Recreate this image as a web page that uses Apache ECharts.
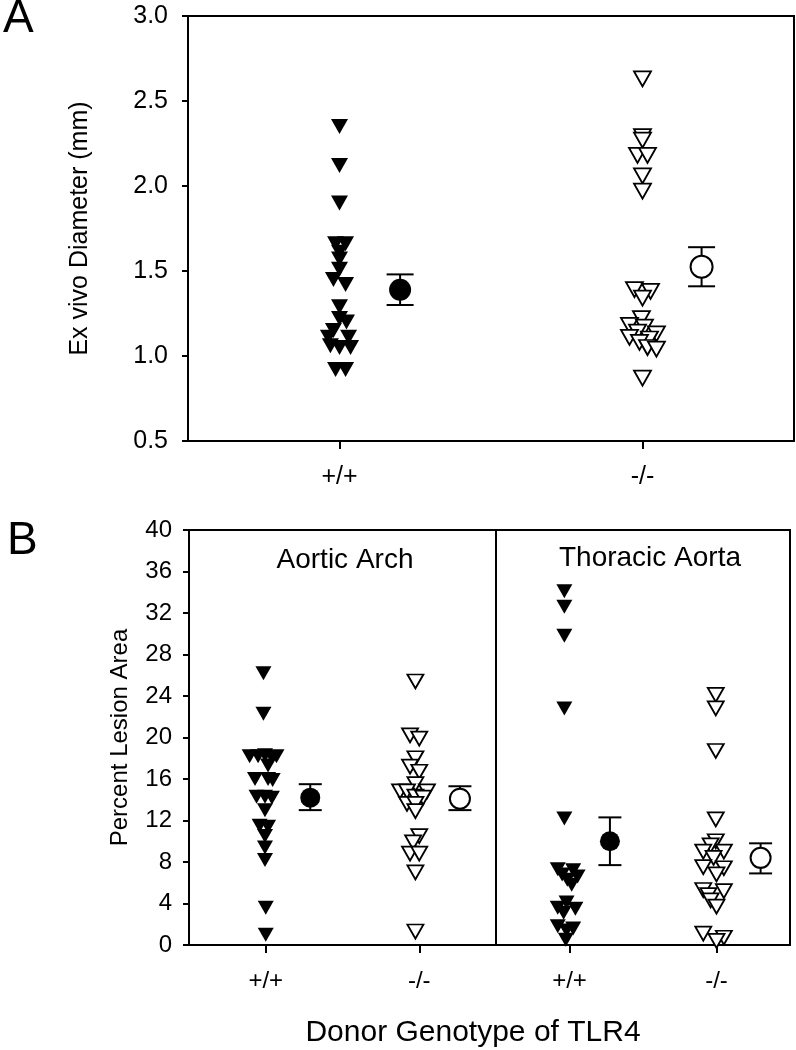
<!DOCTYPE html>
<html>
<head>
<meta charset="utf-8">
<script src="https://cdn.jsdelivr.net/npm/echarts@6/dist/echarts.min.js"></script>
<style>
  html, body { margin: 0; padding: 0; background: #fff; }
  #chart { width: 796px; height: 1050px; }
</style>
</head>
<body>
<div id="chart"></div>
<script>
// tick labels / categories
const genotypes = ['+/+', '-/-']
const groupPos = [1, 3]

// Panel A: ex vivo diameter (mm), [x, y]
const diamWT = [[1, 2.35], [1, 2.12], [1, 1.90], [0.974, 1.66], [1.04, 1.66], [1, 1.61], [1, 1.57], [1, 1.51],
  [0.96, 1.45], [1.04, 1.42], [1, 1.29], [1, 1.22], [1.046, 1.20], [0.96, 1.15], [0.927, 1.11], [1.06, 1.11],
  [0.94, 1.06], [1, 1.05], [1.073, 1.05], [0.974, 0.92], [1.04, 0.92]]
const diamKO = [[3, 2.63], [3, 2.29], [3, 2.27], [2.967, 2.18], [3.033, 2.18], [3, 2.06], [3, 1.97], [2.947, 1.39],
  [3.053, 1.38], [3, 1.34], [2.993, 1.22], [2.914, 1.18], [3.013, 1.17], [2.967, 1.14], [3.092, 1.13], [2.914, 1.11],
  [3.046, 1.10], [2.98, 1.08], [3.033, 1.05], [3.092, 1.04], [3, 0.87]]
// mean [x, mean, low, high]
const diamMeans = [[1.40, 1.39, 1.30, 1.48], [3.39, 1.525, 1.41, 1.64]]

// Panel B: percent lesion area, aortic arch
const archWT = [[0.97, 26.2], [0.97, 22.3], [0.79, 18.2], [0.9, 18.2], [0.99, 18.3], [1.08, 18.1], [1.14, 18.2],
  [1.03, 17.3], [0.86, 16.0], [1.03, 16.0], [1.09, 15.9], [0.88, 14.3], [0.99, 14.3], [1.08, 14.2], [0.99, 13.0],
  [0.92, 11.5], [1.03, 11.4], [0.99, 10.5], [0.99, 9.4], [0.99, 8.2], [1, 3.6], [1, 1.0]]
const archKO = [[2.95, 25.4], [2.88, 20.2], [3, 19.9], [2.95, 18.0], [2.88, 17.2], [3, 16.7], [2.95, 15.5],
  [2.75, 14.8], [2.84, 14.8], [3.1, 14.8], [2.95, 14.3], [3.05, 14.2], [2.84, 13.6], [2.95, 13.6], [2.95, 12.9],
  [3, 10.5], [2.92, 9.9], [2.88, 8.8], [3, 8.8], [2.95, 7.0], [2.95, 1.3]]
const archMeans = [[1.58, 14.2, 13.0, 15.5], [3.53, 14.1, 13.0, 15.3]]

// Panel B: thoracic aorta
const thorWT = [[0.93, 34.1], [0.93, 32.6], [0.93, 29.8], [0.93, 22.8], [0.93, 12.2], [0.84, 7.3], [1.05, 7.2],
  [0.9, 6.8], [1.11, 6.6], [0.97, 6.3], [1.03, 5.8], [0.96, 4.1], [0.84, 3.6], [1.08, 3.5], [0.92, 3.1],
  [0.84, 1.8], [1.05, 1.6], [0.96, 1.4], [0.95, 0.5]]
const thorKO = [[2.99, 24.1], [2.99, 22.8], [2.99, 18.7], [2.99, 12.1], [2.99, 10.0], [2.92, 9.6], [2.82, 9.0],
  [3.1, 9.0], [2.96, 8.4], [2.82, 7.5], [3.1, 7.4], [3, 6.8], [2.82, 5.3], [3.1, 5.2], [2.89, 4.8], [2.92, 4.3],
  [3, 3.7], [2.82, 1.1], [3.1, 0.7], [3, 0.4]]
const thorMeans = [[1.55, 10.0, 7.7, 12.3], [3.6, 8.4, 6.9, 9.8]]

const FONT = 'Liberation Sans, Arial, sans-serif'
const chart = echarts.init(document.getElementById('chart'))

const xAxisFor = (gridIndex, fontSize) => ({
  gridIndex, type: 'value', min: 0, max: 4, interval: 1,
  axisLine: { lineStyle: { color: '#000', width: 2 } },
  axisTick: { customValues: groupPos, length: 8, lineStyle: { color: '#000', width: 2 } },
  axisLabel: {
    customValues: groupPos, color: '#000', fontSize, fontFamily: FONT, margin: 24,
    formatter: v => { const i = groupPos.indexOf(v); return i >= 0 ? genotypes[i] : '' }
  },
  splitLine: { show: false }
})

const triangles = (data, xi, yi, filled, size) => ({
  type: 'scatter', xAxisIndex: xi, yAxisIndex: yi, data,
  symbol: 'triangle', symbolRotate: 180, symbolSize: size,
  itemStyle: filled ? { color: '#000', opacity: 1 } : { color: '#fff', borderColor: '#000', borderWidth: 1.8, opacity: 1 },
  z: 3
})

const meanDots = (data, xi, yi, size) => ({
  type: 'scatter', xAxisIndex: xi, yAxisIndex: yi,
  data: data.map((d, i) => ({
    value: [d[0], d[1]],
    itemStyle: i === 0
      ? { color: '#000', opacity: 1 }
      : { color: '#fff', borderColor: '#000', borderWidth: 2, opacity: 1 }
  })),
  symbol: 'circle', symbolSize: size, z: 5
})

const errorBars = (data, xi, yi, cap) => ({
  type: 'custom', xAxisIndex: xi, yAxisIndex: yi,
  data: data.map(d => [d[0], d[2], d[3]]),
  encode: { x: 0, y: [1, 2] },
  z: 4,
  renderItem: (params, api) => {
    const lo = api.coord([api.value(0), api.value(1)])
    const hi = api.coord([api.value(0), api.value(2)])
    const style = { stroke: '#000', lineWidth: 2 }
    return {
      type: 'group',
      children: [
        { type: 'line', shape: { x1: lo[0], y1: lo[1], x2: hi[0], y2: hi[1] }, style },
        { type: 'line', shape: { x1: lo[0] - cap / 2, y1: lo[1], x2: lo[0] + cap / 2, y2: lo[1] }, style },
        { type: 'line', shape: { x1: hi[0] - cap / 2, y1: hi[1], x2: hi[0] + cap / 2, y2: hi[1] }, style }
      ]
    }
  }
})

const gridBox = { show: true, borderColor: '#000', borderWidth: 2, backgroundColor: 'transparent' }

const option = {
  backgroundColor: '#fff',
  animation: false,
  textStyle: { fontFamily: FONT },
  grid: [
    { left: 188, top: 16, width: 606, height: 425, ...gridBox },
    { left: 189, top: 530, width: 307, height: 415, ...gridBox },
    { left: 496, top: 530, width: 294, height: 415, ...gridBox }
  ],
  xAxis: [xAxisFor(0, 25), xAxisFor(1, 24), xAxisFor(2, 24)],
  yAxis: [
    {
      gridIndex: 0, type: 'value', min: 0.5, max: 3.0, interval: 0.5,
      name: 'Ex vivo Diameter (mm)', nameLocation: 'middle', nameGap: 95, nameRotate: 90,
      nameTextStyle: { color: '#000', fontSize: 25, fontFamily: FONT },
      axisLine: { show: true, lineStyle: { color: '#000', width: 2 } },
      axisTick: { show: true, length: 6, lineStyle: { color: '#000', width: 2 } },
      axisLabel: { color: '#000', fontSize: 25, fontFamily: FONT, margin: 20, formatter: v => v.toFixed(1) },
      splitLine: { show: false }
    },
    {
      gridIndex: 1, type: 'value', min: 0, max: 40, interval: 4,
      name: 'Percent Lesion Area', nameLocation: 'middle', nameGap: 57, nameRotate: 90,
      nameTextStyle: { color: '#000', fontSize: 24, fontFamily: FONT },
      axisLine: { show: true, lineStyle: { color: '#000', width: 2 } },
      axisTick: { show: true, length: 6, lineStyle: { color: '#000', width: 2 } },
      axisLabel: { color: '#000', fontSize: 24, fontFamily: FONT, margin: 17 },
      splitLine: { show: false }
    },
    {
      gridIndex: 2, type: 'value', min: 0, max: 40, interval: 4, show: false,
      splitLine: { show: false }
    }
  ],
  graphic: [
    { type: 'text', left: 3, top: -4, style: { text: 'A', font: '46px ' + FONT, fill: '#000' } },
    { type: 'text', left: 7, top: 518, style: { text: 'B', font: '46px ' + FONT, fill: '#000' } },
    { type: 'text', x: 345, y: 560, style: { text: 'Aortic Arch', font: '28px ' + FONT, fill: '#000', align: 'center', verticalAlign: 'middle' } },
    { type: 'text', x: 650, y: 558, style: { text: 'Thoracic Aorta', font: '28px ' + FONT, fill: '#000', align: 'center', verticalAlign: 'middle' } },
    { type: 'text', x: 473, y: 1033, style: { text: 'Donor Genotype of TLR4', font: '30px ' + FONT, fill: '#000', align: 'center', verticalAlign: 'middle' } }
  ],
  series: [
    triangles(diamWT, 0, 0, true, [17, 15]),
    triangles(diamKO, 0, 0, false, [17, 15]),
    errorBars(diamMeans, 0, 0, 27),
    meanDots(diamMeans, 0, 0, 22),
    triangles(archWT, 1, 1, true, [16, 14]),
    triangles(archKO, 1, 1, false, [16, 14]),
    errorBars(archMeans, 1, 1, 23),
    meanDots(archMeans, 1, 1, 20),
    triangles(thorWT, 2, 2, true, [16, 14]),
    triangles(thorKO, 2, 2, false, [16, 14]),
    errorBars(thorMeans, 2, 2, 23),
    meanDots(thorMeans, 2, 2, 20)
  ]
}

chart.setOption(option)
</script>
</body>
</html>
